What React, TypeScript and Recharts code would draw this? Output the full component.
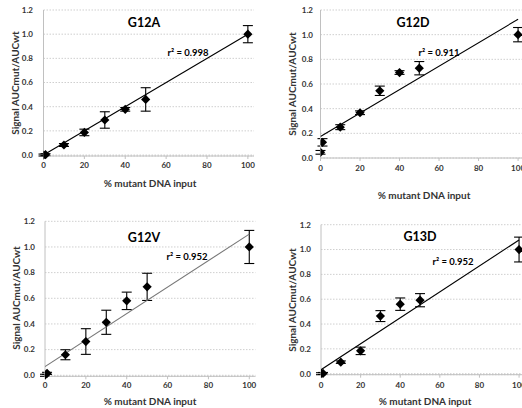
import React from 'react';
import { ComposedChart, Scatter, XAxis, YAxis, CartesianGrid, ErrorBar } from 'recharts';

// ---- data ----
const xInputs = [0, 1, 10, 20, 30, 40, 50, 100];

const g12aValues = [0.0, 0.003, 0.083, 0.187, 0.29, 0.378, 0.46, 1.0];
const g12aErrors = [0.008, 0.008, 0.012, 0.027, 0.068, 0.015, 0.097, 0.071];
const g12aFit = [0.0, 1.0];

const g12dValues = [0.046, 0.127, 0.25, 0.367, 0.545, 0.693, 0.728, 1.0];
const g12dErrors = [0.015, 0.03, 0.02, 0.015, 0.038, 0.015, 0.054, 0.058];
const g12dFit = [0.175, 1.125];

const g12vValues = [0.0, 0.015, 0.16, 0.263, 0.413, 0.58, 0.689, 1.0];
const g12vErrors = [0.008, 0.008, 0.039, 0.1, 0.094, 0.068, 0.106, 0.129];
const g12vFit = [0.068, 1.1];

const g13dValues = [0.0, 0.002, 0.093, 0.184, 0.464, 0.56, 0.592, 1.0];
const g13dErrors = [0.008, 0.008, 0.01, 0.03, 0.044, 0.05, 0.053, 0.1];
const g13dFit = [0.032, 1.077];

const fitX = [0, 100];
const xTicks = [0, 20, 40, 60, 80, 100];
const yTicks = [0, 0.2, 0.4, 0.6, 0.8, 1.0, 1.2];

const FONT = "Lato, 'Open Sans', sans-serif";

type PanelCfg = {
  title: string;
  r2: string;
  values: number[];
  errors: number[];
  fit: number[];
  fitColor: string;
  left: number;
  top: number;
  width: number;
  height: number;
  margin: { top: number; right: number; bottom: number; left: number };
  tickMargin: number;
  yTickMargin: number;
  titlePos: [number, number];
  r2Pos: [number, number];
  xTitlePos: [number, number];
  yTitlePos: [number, number];
};

const Diamond = (props: any) => {
  const { cx, cy } = props;
  if (cx == null || cy == null) return <g />;
  const r = 4.6;
  return (
    <polygon
      points={`${cx},${cy - r} ${cx + r},${cy} ${cx},${cy + r} ${cx - r},${cy}`}
      fill="#000"
    />
  );
};

const NoShape = () => <g />;

const Panel = ({ cfg }: { cfg: PanelCfg }) => {
  const points = xInputs.map((x, i) => ({ x, y: cfg.values[i], err: cfg.errors[i] }));
  const fitLine = fitX.map((x, i) => ({ x, y: cfg.fit[i] }));
  const tickStyle = { fontSize: 8, fontWeight: 700, fill: '#333', fontFamily: FONT };
  return (
    <div style={{ position: 'absolute', left: cfg.left, top: cfg.top, width: cfg.width, height: cfg.height }}>
      <ComposedChart width={cfg.width} height={cfg.height} margin={cfg.margin}>
        <CartesianGrid horizontal vertical={false} stroke="#cfcfcf" strokeDasharray="1.5 1.5" />
        <XAxis
          type="number"
          dataKey="x"
          domain={[0, 103]}
          ticks={xTicks}
          allowDataOverflow
          height={20}
          tickSize={3}
          tickMargin={cfg.tickMargin}
          stroke="#c0c0c0"
          tick={tickStyle}
        />
        <YAxis
          type="number"
          dataKey="y"
          domain={[0, 1.2]}
          ticks={yTicks}
          width={30}
          tickLine={false}
          tickSize={0}
          tickMargin={cfg.yTickMargin}
          stroke="#c0c0c0"
          tickFormatter={(v: number) => v.toFixed(1)}
          tick={tickStyle}
        />
        <Scatter
          data={fitLine}
          line={{ stroke: cfg.fitColor, strokeWidth: 1.1 }}
          shape={NoShape}
          isAnimationActive={false}
        />
        <Scatter data={points} shape={Diamond} isAnimationActive={false}>
          <ErrorBar dataKey="err" direction="y" width={5} stroke="#000" strokeWidth={1.1} />
        </Scatter>
        <text
          x={cfg.titlePos[0]}
          y={cfg.titlePos[1]}
          textAnchor="middle"
          dominantBaseline="central"
          style={{ fontFamily: FONT, fontSize: 12.5, fontWeight: 700, fill: '#000' }}
        >
          {cfg.title}
        </text>
        <text
          x={cfg.r2Pos[0]}
          y={cfg.r2Pos[1]}
          textAnchor="middle"
          dominantBaseline="central"
          style={{ fontFamily: FONT, fontSize: 9.5, fontWeight: 700, fill: '#000' }}
        >
          {cfg.r2}
        </text>
        <text
          x={cfg.xTitlePos[0]}
          y={cfg.xTitlePos[1]}
          textAnchor="middle"
          dominantBaseline="central"
          style={{ fontFamily: FONT, fontSize: 10, fontWeight: 700, fill: '#333' }}
        >
          % mutant DNA input
        </text>
        <text
          x={cfg.yTitlePos[0]}
          y={cfg.yTitlePos[1]}
          textAnchor="middle"
          dominantBaseline="central"
          transform={`rotate(-90 ${cfg.yTitlePos[0]} ${cfg.yTitlePos[1]})`}
          style={{ fontFamily: FONT, fontSize: 10, fontWeight: 700, fill: '#333' }}
        >
          Signal AUCmut/AUCwt
        </text>
      </ComposedChart>
    </div>
  );
};

const panels: PanelCfg[] = [
  {
    title: 'G12A', r2: 'r² = 0.998', values: g12aValues, errors: g12aErrors, fit: g12aFit, fitColor: '#000',
    left: 0, top: 0, width: 261, height: 204,
    margin: { top: 10, right: 7, bottom: 28, left: 13.5 }, tickMargin: 3, yTickMargin: 10.5,
    titlePos: [144, 22], r2Pos: [188, 52], xTitlePos: [150, 183], yTitlePos: [15, 83],
  },
  {
    title: 'G12D', r2: 'r² = 0.911', values: g12dValues, errors: g12dErrors, fit: g12dFit, fitColor: '#000',
    left: 261, top: 0, width: 270, height: 204,
    margin: { top: 10, right: 7, bottom: 26, left: 29.5 }, tickMargin: 4.5, yTickMargin: 7.5,
    titlePos: [152, 22], r2Pos: [178, 52], xTitlePos: [163, 195], yTitlePos: [31, 84],
  },
  {
    title: 'G12V', r2: 'r² = 0.952', values: g12vValues, errors: g12vErrors, fit: g12vFit, fitColor: '#777',
    left: 0, top: 204, width: 261, height: 204,
    margin: { top: 17.3, right: 5.6, bottom: 11.7, left: 15 }, tickMargin: 3.2, yTickMargin: 10,
    titlePos: [144, 33], r2Pos: [187, 52], xTitlePos: [150, 197], yTitlePos: [16, 94],
  },
  {
    title: 'G13D', r2: 'r² = 0.952', values: g13dValues, errors: g13dErrors, fit: g13dFit, fitColor: '#000',
    left: 261, top: 204, width: 270, height: 204,
    margin: { top: 20.7, right: 6, bottom: 13.3, left: 30 }, tickMargin: 4.5, yTickMargin: 10,
    titlePos: [159, 32], r2Pos: [192, 57], xTitlePos: [164, 197], yTitlePos: [31, 96],
  },
];

export default function App() {
  return (
    <div
      style={{
        position: 'fixed', left: 0, top: 0, width: 522, height: 408,
        overflow: 'hidden', background: '#fff',
      }}
    >
      {panels.map((p) => (
        <Panel key={p.title} cfg={p} />
      ))}
    </div>
  );
}
